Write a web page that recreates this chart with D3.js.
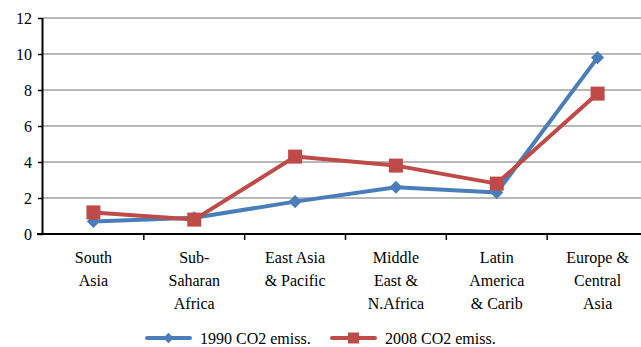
<!DOCTYPE html>
<html>
<head>
<meta charset="utf-8">
<script src="https://cdn.jsdelivr.net/npm/d3@7"></script>
<style>
  html, body { margin: 0; padding: 0; background: #fff; }
  svg { display: block; }
</style>
</head>
<body>
<svg id="chart" width="641" height="347" font-family="serif"></svg>
<script>
// Regions and their CO2 emissions per capita (tonnes)
const categories = [
  ["South", "Asia"],
  ["Sub-", "Saharan", "Africa"],
  ["East Asia", "& Pacific"],
  ["Middle", "East &", "N.Africa"],
  ["Latin", "America", "& Carib"],
  ["Europe &", "Central", "Asia"]
];
const series1990 = [0.7, 0.9, 1.8, 2.6, 2.3, 9.8];
const series2008 = [1.2, 0.8, 4.3, 3.8, 2.8, 7.8];
const seriesNames = ["1990 CO2 emiss.", "2008 CO2 emiss."];
const yTicks = [0, 2, 4, 6, 8, 10, 12];

const FONT = "serif";
const svg = d3.select("#chart");
const W = 641;
const plotLeft = 43, plotTop = 18, plotBottom = 234, plotRight = 648;

const keys = categories.map((c, i) => i);
const x = d3.scaleBand().domain(keys).range([plotLeft, plotRight]).padding(0);
const y = d3.scaleLinear().domain([0, 12]).range([plotBottom, plotTop]);

// horizontal gridlines
svg.append("g").selectAll("line").data(yTicks.filter(d => d > 0)).join("line")
  .attr("x1", plotLeft).attr("x2", W)
  .attr("y1", d => y(d)).attr("y2", d => y(d))
  .attr("stroke", "#a0a0a0").attr("stroke-width", 1.5);

// y axis
const yAxis = svg.append("g").attr("transform", `translate(${plotLeft},0)`)
  .call(d3.axisLeft(y).tickValues(yTicks).tickSize(5).tickPadding(6));
yAxis.attr("font-family", FONT).attr("font-size", 16);
yAxis.select(".domain").attr("stroke", "#000").attr("stroke-width", 2)
  .attr("d", `M-0.5,${plotTop}V${plotBottom}`);
yAxis.selectAll(".tick line").attr("stroke", "#000").attr("stroke-width", 1.5);
yAxis.selectAll(".tick text").attr("fill", "#000");

// x axis with ticks on the band boundaries
const xg = svg.append("g").attr("font-family", FONT).attr("font-size", 16);
xg.append("line").attr("x1", plotLeft - 6).attr("x2", W)
  .attr("y1", plotBottom).attr("y2", plotBottom)
  .attr("stroke", "#000").attr("stroke-width", 2);
xg.selectAll("line.tk").data(keys.slice(1)).join("line").attr("class", "tk")
  .attr("x1", d => x(d)).attr("x2", d => x(d))
  .attr("y1", plotBottom).attr("y2", plotBottom + 6)
  .attr("stroke", "#000").attr("stroke-width", 1.5);

// category labels
const lab = xg.selectAll("text.cat").data(keys).join("text").attr("class", "cat")
  .attr("text-anchor", "middle").attr("fill", "#000");
lab.each(function(d) {
  const t = d3.select(this);
  categories[d].forEach((line, j) => {
    t.append("tspan").attr("x", x(d) + x.bandwidth() / 2)
      .attr("y", 263 + j * 23).text(line);
  });
});

const cx = i => x(i) + x.bandwidth() / 2;
const line = d3.line().x((d, i) => cx(i)).y(d => y(d));
const colors = ["#4a7ebb", "#be4b48"];

// 1990 series: blue line with diamonds
svg.append("path").datum(series1990).attr("d", line)
  .attr("fill", "none").attr("stroke", colors[0]).attr("stroke-width", 4)
  .attr("stroke-linejoin", "round");
svg.append("g").selectAll("path").data(series1990).join("path")
  .attr("d", d3.symbol(d3.symbolDiamond2, 110))
  .attr("transform", (d, i) => `translate(${cx(i)},${y(d)})`)
  .attr("fill", colors[0]);

// 2008 series: red line with squares
svg.append("path").datum(series2008).attr("d", line)
  .attr("fill", "none").attr("stroke", colors[1]).attr("stroke-width", 4)
  .attr("stroke-linejoin", "round");
svg.append("g").selectAll("rect").data(series2008).join("rect")
  .attr("x", (d, i) => cx(i) - 7).attr("y", d => y(d) - 7)
  .attr("width", 14).attr("height", 14)
  .attr("fill", colors[1]);

// legend
const legend = svg.append("g").attr("font-family", FONT).attr("font-size", 16);
const legX = [147, 332];
seriesNames.forEach((name, k) => {
  const g = legend.append("g").attr("transform", `translate(${legX[k]},338)`);
  g.append("line").attr("x1", 0).attr("x2", 43).attr("y1", 0).attr("y2", 0)
    .attr("stroke", colors[k]).attr("stroke-width", 4).attr("stroke-linecap", "round");
  if (k === 0) {
    g.append("path").attr("d", d3.symbol(d3.symbolDiamond2, 70))
      .attr("transform", "translate(21.5,0)").attr("fill", colors[k]);
  } else {
    g.append("rect").attr("x", 16).attr("y", -5.5).attr("width", 11).attr("height", 11)
      .attr("fill", colors[k]);
  }
  g.append("text").attr("x", 53).attr("y", 5.5).attr("fill", "#000").text(name);
});
</script>
</body>
</html>
